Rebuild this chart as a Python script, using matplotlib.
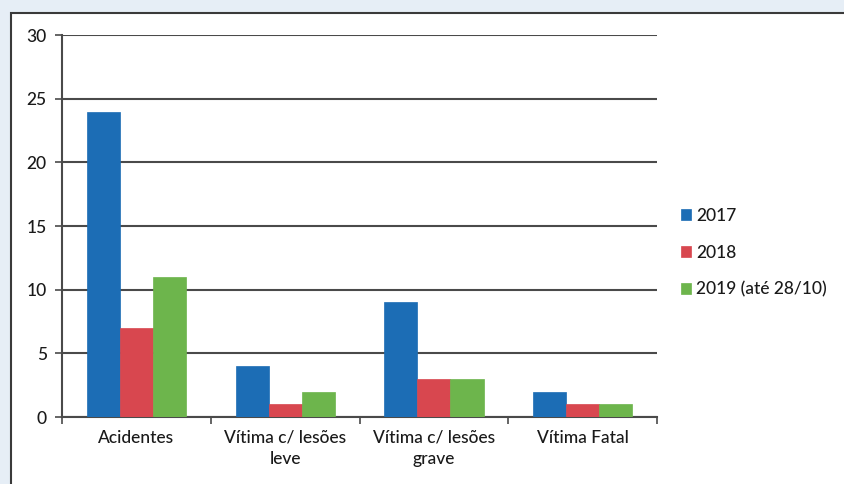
import matplotlib
matplotlib.use('Agg')
import matplotlib.pyplot as plt
import numpy as np
from matplotlib.patches import Rectangle

categorias = ['Acidentes', 'Vítima c/ lesões\nleve', 'Vítima c/ lesões\ngrave', 'Vítima Fatal']
anos = ['2017', '2018', '2019 (até 28/10)']
v2017 = [24, 4, 9, 2]
v2018 = [7, 1, 3, 1]
v2019 = [11, 2, 3, 1]
cores = ['#1c6db5', '#d8474f', '#6db54c']
marcas_y = [0, 5, 10, 15, 20, 25, 30]

plt.rcParams['font.family'] = ['Lato', 'DejaVu Sans']

fig = plt.figure(figsize=(8.44, 4.84), dpi=100)
fig.patch.set_facecolor('#e6eef6')

# moldura branca do grafico
moldura = Rectangle((0.013, -0.02), 1.0, 0.993, transform=fig.transFigure,
                    facecolor='white', edgecolor='#3a3a3a', linewidth=1.5, zorder=-10)
fig.patches.append(moldura)

ax = fig.add_axes([0.0735, 0.1384, 0.705, 0.789])
ax.set_facecolor('white')

x = np.arange(len(categorias))
larg = 1 / 4.5
series = [v2017, v2018, v2019]
for i, vals in enumerate(series):
    ax.bar(x + (i - 1) * larg, vals, larg, color=cores[i], edgecolor=cores[i],
           linewidth=0.5, label=anos[i], zorder=3)

ax.set_xlim(-0.5, len(categorias) - 0.5)
ax.set_ylim(0, 30)
ax.set_yticks(marcas_y)
ax.yaxis.grid(True, color='#4a4a4a', linewidth=1.5, zorder=1)
ax.set_axisbelow(True)

ax.set_xticks(x)
ax.set_xticklabels(categorias, fontsize=12.5, color='#1a1a1a', linespacing=1.45,
                   fontweight='medium')
ax.set_xticks(np.arange(len(categorias) + 1) - 0.5, minor=True)
ax.tick_params(axis='x', which='major', length=0, pad=9)
ax.tick_params(axis='x', which='minor', length=5, width=1.2, color='#4a4a4a')
ax.tick_params(axis='y', length=5, width=1.2, color='#4a4a4a', labelsize=12.5,
               labelcolor='#1a1a1a', pad=6)
for t in ax.get_yticklabels():
    t.set_fontweight('medium')

for lado in ['top', 'right']:
    ax.spines[lado].set_visible(False)
for lado in ['left', 'bottom']:
    ax.spines[lado].set_color('#4a4a4a')
    ax.spines[lado].set_linewidth(1.5)

leg = ax.legend(loc='center left', bbox_to_anchor=(1.028, 0.43), frameon=False,
                fontsize=12.5, handlelength=0.6, handleheight=0.6, handletextpad=0.3,
                labelspacing=1.2, labelcolor='#1a1a1a', borderaxespad=0)
for t in leg.get_texts():
    t.set_fontweight('medium')

fig.savefig('out.png', dpi=100, facecolor=fig.get_facecolor())
